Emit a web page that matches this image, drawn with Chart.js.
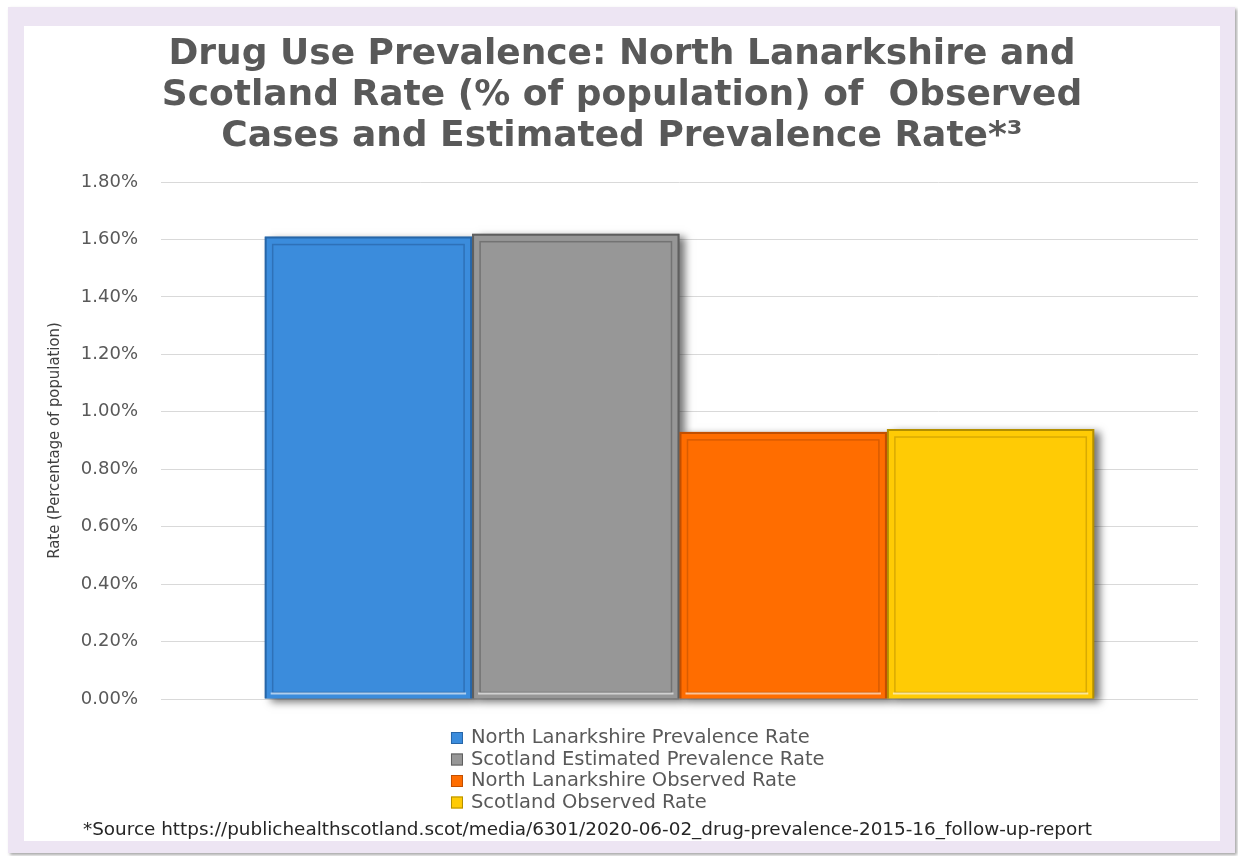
<!DOCTYPE html>
<html>
<head>
<meta charset="utf-8">
<script src="https://cdn.jsdelivr.net/npm/chart.js@4"></script>
<style>
  body { margin: 0; background: #ffffff; }
  #frame {
    position: absolute; left: 8px; top: 7px; width: 1227px; height: 846px;
    background: #ede5f3; box-shadow: 2px 2px 3px rgba(0,0,0,0.35);
  }
  #panel {
    position: absolute; left: 16px; top: 19px; width: 1196px; height: 815px;
    background: #ffffff;
  }
</style>
</head>
<body>
<div id="frame">
  <div id="panel">
    <canvas id="prevChart" width="1196" height="815"></canvas>
  </div>
</div>
<script>
// chart data
const categories = [''];
const seriesNames = [
    'North Lanarkshire Prevalence Rate',
    'Scotland Estimated Prevalence Rate',
    'North Lanarkshire Observed Rate',
    'Scotland Observed Rate'
];
const nlPrevalence = [1.61];
const scotPrevalence = [1.62];
const nlObserved = [0.93];
const scotObserved = [0.94];

const titleLines = [
    'Drug Use Prevalence: North Lanarkshire and',
    'Scotland Rate (% of population) of  Observed',
    'Cases and Estimated Prevalence Rate*\u00B3'
];
const yAxisTitle = 'Rate (Percentage of population)';
const sourceNote = '*Source https://publichealthscotland.scot/media/6301/2020-06-02_drug-prevalence-2015-16_follow-up-report';

const fills = ['#3b8cdc', '#979797', '#ff6d00', '#ffcb05'];
const edges = ['#2766a8', '#5f5f5f', '#c24f00', '#b38f00'];
const inner = ['rgba(30,80,140,0.45)', 'rgba(70,70,70,0.45)', 'rgba(170,70,0,0.45)', 'rgba(170,130,0,0.45)'];

// soft shadow behind each bar
const barShadow = {
    id: 'barShadow',
    beforeDatasetsDraw(chart) {
        const ctx = chart.ctx;
        chart.data.datasets.forEach((ds, i) => {
            chart.getDatasetMeta(i).data.forEach(bar => {
                const p = bar.getProps(['x', 'y', 'base', 'width'], true);
                ctx.save();
                ctx.shadowColor = 'rgba(0,0,0,0.55)';
                ctx.shadowBlur = 8;
                ctx.shadowOffsetX = 6;
                ctx.shadowOffsetY = 3;
                ctx.fillStyle = edges[i];
                ctx.fillRect(p.x - p.width / 2, p.y, p.width, p.base - p.y);
                ctx.restore();
            });
        });
    },
    afterDatasetsDraw(chart) {
        const ctx = chart.ctx;
        chart.data.datasets.forEach((ds, i) => {
            chart.getDatasetMeta(i).data.forEach(bar => {
                const p = bar.getProps(['x', 'y', 'base', 'width'], true);
                ctx.save();
                ctx.strokeStyle = inner[i];
                ctx.lineWidth = 1.5;
                ctx.strokeRect(p.x - p.width / 2 + 8, p.y + 8, p.width - 16, p.base - p.y - 14);
                ctx.strokeStyle = 'rgba(255,255,255,0.6)';
                ctx.lineWidth = 2;
                ctx.beginPath();
                ctx.moveTo(p.x - p.width / 2 + 6, p.base - 5);
                ctx.lineTo(p.x + p.width / 2 - 6, p.base - 5);
                ctx.stroke();
                ctx.restore();
            });
        });
    }
};

// vertical legend + source line under the plot
const bottomNotes = {
    id: 'bottomNotes',
    afterDraw(chart) {
        const ctx = chart.ctx;
        const area = chart.chartArea;
        const left = area.left + 290;
        ctx.save();
        ctx.font = '19.5px "DejaVu Sans"';
        ctx.textBaseline = 'middle';
        chart.data.datasets.forEach((ds, i) => {
            const y = area.bottom + 39 + i * 21.5;
            ctx.fillStyle = ds.backgroundColor;
            ctx.fillRect(left, y - 6, 12, 12);
            ctx.strokeStyle = ds.borderColor;
            ctx.lineWidth = 1;
            ctx.strokeRect(left + 0.5, y - 5.5, 11, 11);
            ctx.fillStyle = '#595959';
            ctx.fillText(ds.label, left + 20, y);
        });
        ctx.font = '18.4px "DejaVu Sans"';
        ctx.fillStyle = '#262626';
        ctx.fillText(sourceNote, 59, area.bottom + 131);
        ctx.restore();
    }
};

const makeSet = (i, values) => ({
    label: seriesNames[i],
    data: values,
    backgroundColor: fills[i],
    borderColor: edges[i],
    borderWidth: 2
});

const prevChart = new Chart(document.getElementById('prevChart'), {
    type: 'bar',
    data: {
        labels: categories,
        datasets: [
            makeSet(0, nlPrevalence),
            makeSet(1, scotPrevalence),
            makeSet(2, nlObserved),
            makeSet(3, scotObserved)
        ]
    },
    options: {
        responsive: false,
        animation: false,
        categoryPercentage: 0.8,
        barPercentage: 1.0,
        layout: { padding: { left: 0, right: 0, top: 0, bottom: 142 } },
        scales: {
            x: { display: false },
            y: {
                min: 0,
                max: 1.8,
                ticks: {
                    stepSize: 0.2,
                    padding: 3,
                    color: '#595959',
                    font: { family: 'DejaVu Sans', size: 18 },
                    callback: v => v.toFixed(2) + '%'
                },
                grid: { color: '#d9d9d9', lineWidth: 1, drawTicks: true, tickLength: 20, tickColor: 'rgba(0,0,0,0)' },
                border: { display: false },
                title: {
                    display: true,
                    text: yAxisTitle,
                    color: '#404040',
                    font: { family: '"Liberation Sans Narrow", "DejaVu Sans Condensed", sans-serif', size: 16.5 },
                    padding: { top: 21, bottom: 13 }
                }
            },
            // empty right-hand margin so the title stays centred on the panel
            rightGap: {
                type: 'linear',
                position: 'right',
                ticks: { display: false },
                grid: { display: false },
                border: { display: false },
                afterFit: s => { s.width = 22; }
            }
        },
        plugins: {
            legend: { display: false },
            tooltip: { enabled: false },
            title: {
                display: true,
                text: titleLines,
                color: '#595959',
                font: { family: 'DejaVu Sans', size: 36, weight: 'bold', lineHeight: 41 / 36 },
                padding: { top: 8, bottom: 25 }
            }
        }
    },
    plugins: [barShadow, bottomNotes]
});
</script>
</body>
</html>
